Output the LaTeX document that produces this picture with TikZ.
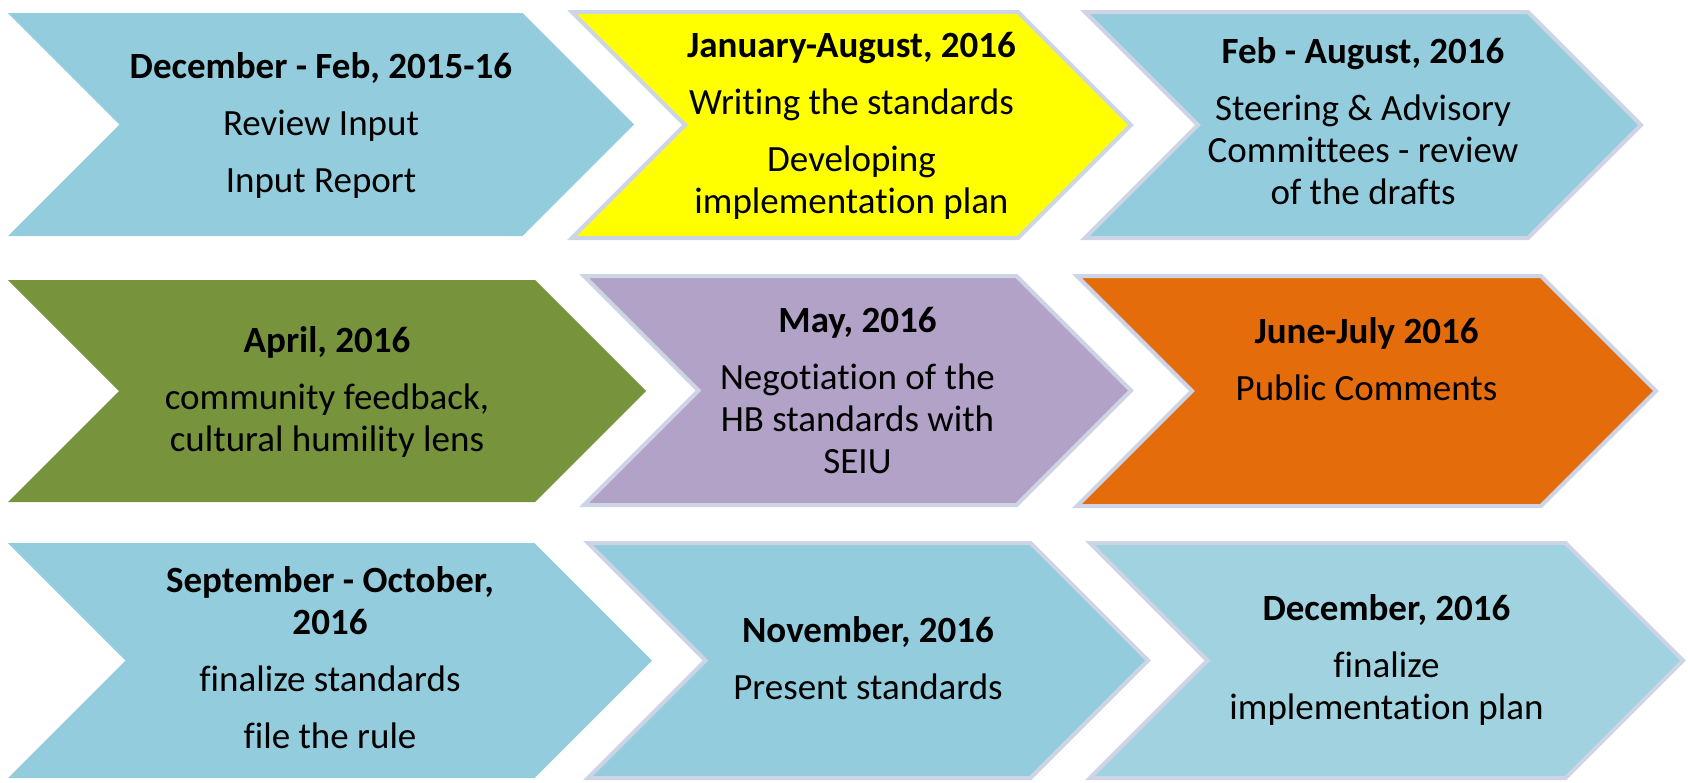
\documentclass[tikz,border=0pt]{standalone}
\usepackage{fontspec}
\setmainfont{Carlito}[Ligatures={NoCommon,NoContextual}]
\definecolor{cblue}{HTML}{93CDDD}
\definecolor{clblue}{HTML}{A0D2E0}
\definecolor{cyellow}{HTML}{FFFF00}
\definecolor{cgreen}{HTML}{77933C}
\definecolor{cpurple}{HTML}{B2A2C7}
\definecolor{corange}{HTML}{E46C0A}
\definecolor{cborder}{HTML}{CDD4E6}
\newcommand\mychev[5]{%
  \pgfmathsetmacro\dd{(#5-#4)/2}%
  \pgfmathsetmacro\mm{(#5+#4)/2}%
  \path[#1] (#2,#4) -- ({#3-\dd},#4) -- (#3,\mm) -- ({#3-\dd},#5) -- (#2,#5) -- ({#2+\dd},\mm) -- cycle;%
}
\begin{document}
\begin{tikzpicture}[x=1pt,y=-1pt,
  plain/.style={fill=#1},
  framed/.style={fill=#1,draw=cborder,line width=4pt,line join=miter},
  txt/.style={anchor=north,inner sep=0pt,align=center,text=black,font={\fontsize{37}{42}\selectfont}}]
\useasboundingbox (0,0) rectangle (1688,782);
% row 1
\mychev{plain=cblue}{8}{634}{13}{236}
\mychev{framed=cyellow}{572}{1131}{12}{238}
\mychev{framed=cblue}{1085}{1641}{12}{238}
% row 2
\mychev{plain=cgreen}{8}{646}{280}{502}
\mychev{framed=cpurple}{584}{1131}{276}{505}
\mychev{framed=corange}{1077}{1656}{276}{506}
% row 3
\mychev{plain=cblue}{8}{652}{543}{778}
\mychev{framed=cblue}{588}{1148}{543}{778}
\mychev{framed=clblue}{1090}{1683}{543}{778}
% texts
\node[txt] (t1) at (321,48.6) {\strut\textbf{December - Feb, 2015-16}\\[15pt]Review Input\\[15pt]Input Report};
\node[txt] (t2) at (851.5,27.6) {\strut\textbf{January-August, 2016}\\[15pt]Writing the standards\\[15pt]Developing\\implementation plan};
\node[txt] (t3) at (1363,33.6) {\strut\textbf{Feb - August, 2016}\\[15pt]Steering \& Advisory\\Committees - review\\of the drafts};
\node[txt] (t4) at (327,322.6) {\strut\textbf{April, 2016}\\[15pt]community feedback,\\cultural humility lens};
\node[txt] (t5) at (857.5,302.6) {\strut\textbf{May, 2016}\\[15pt]Negotiation of the\\HB standards with\\SEIU};
\node[txt] (t6) at (1366.5,313.6) {\strut\textbf{June-July 2016}\\[15pt]Public Comments};
\node[txt] (t7) at (330,562.6) {\strut\textbf{September - October,}\\\textbf{2016}\\[15pt]finalize standards\\[15pt]file the rule};
\node[txt] (t8) at (868,612.6) {\strut\textbf{November, 2016}\\[15pt]Present standards};
\node[txt] (t9) at (1386.5,590.6) {\strut\textbf{December, 2016}\\[15pt]finalize\\implementation plan};
\end{tikzpicture}
\end{document}
